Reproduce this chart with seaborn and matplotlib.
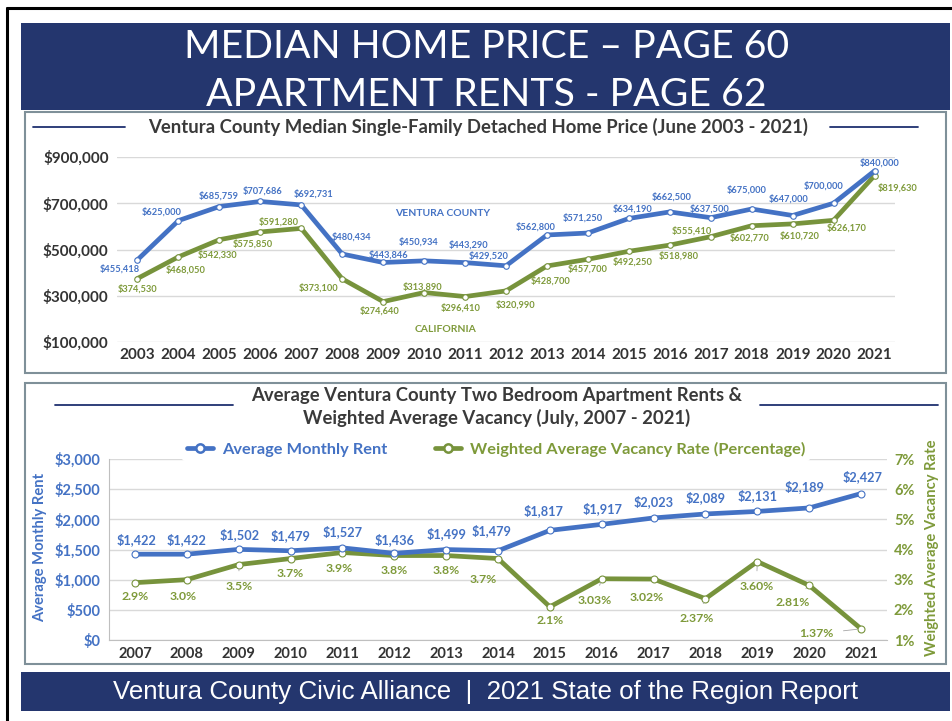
import matplotlib
matplotlib.use("Agg")
import matplotlib.pyplot as plt
import seaborn as sns
import pandas as pd
import numpy as np
from matplotlib.patches import Rectangle
from matplotlib.lines import Line2D

# ---- data ----
home_years = [str(y) for y in range(2003, 2022)]
vc_price = [455418, 625000, 685759, 707686, 692731, 480434, 443846, 450934, 443290,
            429520, 562800, 571250, 634190, 662500, 637500, 675000, 647000, 700000, 840000]
ca_price = [374530, 468050, 542330, 575850, 591280, 373100, 274640, 313890, 296410,
            320990, 428700, 457700, 492250, 518980, 555410, 602770, 610720, 626170, 819630]

rent_years = [str(y) for y in range(2007, 2022)]
rent = [1422, 1422, 1502, 1479, 1527, 1436, 1499, 1479, 1817, 1917, 2023, 2089, 2131, 2189, 2427]
vacancy = [2.9, 3.0, 3.5, 3.7, 3.9, 3.8, 3.8, 3.7, 2.1, 3.03, 3.02, 2.37, 3.60, 2.81, 1.37]
vacancy_text = ["2.9%", "3.0%", "3.5%", "3.7%", "3.9%", "3.8%", "3.8%", "3.7%", "2.1%",
                "3.03%", "3.02%", "2.37%", "3.60%", "2.81%", "1.37%"]

# label offsets in pixels (dx, dy downward)
vc_off = [(-18, 9), (-17, -9), (-1, -11), (2, -11), (12, -11), (9, -17), (5, -8), (-6, -19),
          (3, -18), (-17, -10), (-11, -8), (-5, -15), (4, -10), (2, -15), (-1, -9), (-5, -19),
          (-4, -17), (-10, -17), (5, -8)]
ca_off = [(0, 10), (7, 13), (-2, 15), (-8, 12), (-23, -6), (-24, 9), (-4, 9), (-2, -6),
          (-4, 11), (10, 14), (4, 15), (0, 10), (4, 11), (9, 11), (-19, -6), (-2, 12),
          (7, 12), (13, 8), (23, 12)]
rent_off = [(2, -15), (0, -15), (1, -15), (0, -15), (0, -16), (0, -14), (0, -16), (-6, -20),
            (-6, -20), (1, -16), (0, -16), (0, -16), (0, -16), (-5, -21), (1, -17)]
vac_off = [(0, 14), (-4, 17), (1, 22), (0, 15), (-3, 16), (0, 15), (0, 15), (-15, 21),
           (0, 14), (-7, 22), (-7, 18), (-9, 20), (-1, 25), (-17, 17), (-45, 5)]
vac_leader = [False, False, True, False, False, False, False, False,
              False, True, False, True, True, True, True]

BLUE = "#4472C4"
GREEN = "#77933C"
GREEN_TXT = "#7E9A3A"
NAVY = "#24366E"
DARK = "#333333"
GRID = "#D9D9D9"

W, H = 953, 721


def fx(x):
    return x / W


def fy(y):
    return 1 - y / H


sns.set_style("white")
plt.rcParams['font.family'] = ['Lato', 'DejaVu Sans']

fig = plt.figure(figsize=(W / 100, H / 100), dpi=100)

# ---- frame, header, footer ----
fig.add_artist(Line2D([fx(7), fx(953)], [fy(8), fy(8)], color="black", lw=2.2, zorder=-1))
fig.add_artist(Line2D([fx(7), fx(7)], [fy(8), fy(721)], color="black", lw=2.2, zorder=-1))
fig.add_artist(Rectangle((fx(21), fy(110)), (950 - 21) / W, 87 / H, transform=fig.transFigure,
                         facecolor=NAVY, edgecolor="none", zorder=-2))
fig.add_artist(Rectangle((fx(21), fy(711)), (950 - 21) / W, 39 / H, transform=fig.transFigure,
                         facecolor=NAVY, edgecolor="none", zorder=-2))
for y0, y1 in [(112, 373), (383, 664)]:
    fig.add_artist(Rectangle((fx(25), fy(y1)), (946 - 25) / W, (y1 - y0) / H,
                             transform=fig.transFigure, facecolor="white",
                             edgecolor="#7F9099", lw=1.5, zorder=-1.5))

fig.text(fx(487), fy(58), "MEDIAN HOME PRICE \u2013 PAGE 60", color="white", fontsize=28.3,
         ha="center", va="baseline")
fig.text(fx(486), fy(106), "APARTMENT RENTS - PAGE 62", color="white", fontsize=28.3,
         ha="center", va="baseline")
fig.text(fx(486), fy(692), "Ventura County Civic Alliance  |  2021 State of the Region Report",
         color="white", fontsize=18.6, ha="center", va="center",
         family=['Liberation Sans', 'DejaVu Sans'])

# ---- top chart ----
fig.add_artist(Line2D([fx(33), fx(125)], [fy(127), fy(127)], color="#1F3070", lw=1.3))
fig.add_artist(Line2D([fx(830), fx(918)], [fy(127), fy(127)], color="#1F3070", lw=1.3))
fig.text(fx(478), fy(127), "Ventura County Median Single-Family Detached Home Price (June 2003 - 2021)",
         color="#3A3A3A", fontsize=13.3, fontweight="bold", ha="center", va="center")

ax1 = fig.add_axes([fx(117), fy(342), (895 - 117) / W, (342 - 157) / H])
df_home = pd.DataFrame({"year": home_years, "vc": vc_price, "ca": ca_price})
for col, c in [("ca", GREEN), ("vc", BLUE)]:
    sns.lineplot(data=df_home, x="year", y=col, ax=ax1, color=c, linewidth=3.4, marker="o",
                 markersize=4, markerfacecolor="white", markeredgecolor=c, markeredgewidth=0.8,
                 clip_on=False, sort=False)
ax1.set_xlim(-0.5, len(home_years) - 0.5)
ax1.set_ylim(100000, 900000)
ax1.set_yticks([100000, 300000, 500000, 700000, 900000])
ax1.set_yticklabels([f"${v:,}" for v in [100000, 300000, 500000, 700000, 900000]])
ax1.grid(axis="y", color=GRID, lw=1)
ax1.set_axisbelow(True)
ax1.patch.set_visible(False)
for s in ax1.spines.values():
    s.set_visible(False)
ax1.tick_params(axis="y", length=0, pad=6, labelsize=11, labelcolor=DARK)
ax1.tick_params(axis="x", length=0, pad=4, labelsize=11, labelcolor=DARK)
for lab in ax1.get_xticklabels() + ax1.get_yticklabels():
    lab.set_fontweight("bold")
ax1.set_xticks(np.arange(len(home_years) + 1) - 0.5, minor=True)
ax1.tick_params(axis="x", which="minor", length=6, color="#EEEEEE", width=1)
ax1.set_xlabel("")
ax1.set_ylabel("")

for i, v in enumerate(vc_price):
    dx, dy = vc_off[i]
    ax1.annotate(f"${v:,}", (i, v), xytext=(dx, -dy), textcoords="offset pixels",
                 ha="center", va="center", fontsize=6.7, fontweight="bold", color=BLUE,
                 annotation_clip=False)
for i, v in enumerate(ca_price):
    dx, dy = ca_off[i]
    ax1.annotate(f"${v:,}", (i, v), xytext=(dx, -dy), textcoords="offset pixels",
                 ha="center", va="center", fontsize=6.7, fontweight="bold", color=GREEN_TXT,
                 annotation_clip=False)
fig.text(fx(443), fy(213), "VENTURA COUNTY", color=BLUE, fontsize=7.5, fontweight="bold",
         ha="center", va="center")
fig.text(fx(446), fy(330), "CALIFORNIA", color=GREEN_TXT, fontsize=7.5, fontweight="bold",
         ha="center", va="center")

# ---- bottom chart ----
fig.add_artist(Line2D([fx(55), fx(233)], [fy(405), fy(405)], color="#1F3070", lw=1.3))
fig.add_artist(Line2D([fx(760), fx(938)], [fy(405), fy(405)], color="#1F3070", lw=1.3))
fig.text(fx(497), fy(396), "Average Ventura County Two Bedroom Apartment Rents &",
         color="#3A3A3A", fontsize=13.3, fontweight="bold", ha="center", va="center")
fig.text(fx(497), fy(418), "Weighted Average Vacancy (July, 2007 - 2021)",
         color="#3A3A3A", fontsize=13.3, fontweight="bold", ha="center", va="center")

ax2 = fig.add_axes([fx(109), fy(640), (887 - 109) / W, (640 - 459) / H])
ax3 = ax2.twinx()
df_rent = pd.DataFrame({"year": rent_years, "rent": rent, "vac": vacancy})
sns.lineplot(data=df_rent, x="year", y="vac", ax=ax3, color=GREEN, linewidth=3.4, marker="o",
             markersize=5, markerfacecolor="white", markeredgecolor=GREEN,
             markeredgewidth=0.8, clip_on=False, sort=False)
sns.lineplot(data=df_rent, x="year", y="rent", ax=ax2, color=BLUE, linewidth=3.4, marker="o",
             markersize=5, markerfacecolor="white", markeredgecolor=BLUE,
             markeredgewidth=0.8, clip_on=False, sort=False)
ax3.set_zorder(ax2.get_zorder() - 1)
ax2.patch.set_visible(False)
ax3.patch.set_visible(False)

ax2.set_xlim(-0.5, len(rent_years) - 0.5)
ax2.set_ylim(0, 3000)
ax3.set_ylim(1, 7)
ax2.set_yticks(range(0, 3001, 500))
ax2.set_yticklabels([f"${v:,}" for v in range(0, 3001, 500)])
ax3.set_yticks(range(1, 8))
ax3.set_yticklabels([f"{v}%" for v in range(1, 8)])
ax3.grid(axis="y", color=GRID, lw=1)
ax2.grid(False)
for a in (ax2, ax3):
    for s in a.spines.values():
        s.set_visible(False)
ax3.spines["left"].set_visible(True)
ax3.spines["left"].set_color("#BFBFBF")
ax3.spines["bottom"].set_visible(True)
ax3.spines["bottom"].set_color("#BFBFBF")
ax2.tick_params(axis="y", length=0, pad=6, labelsize=10.5, labelcolor=BLUE)
ax3.tick_params(axis="y", length=0, pad=5, labelsize=10.5, labelcolor=GREEN_TXT)
ax2.tick_params(axis="x", length=0, pad=5, labelsize=10.5, labelcolor=DARK)
ax2.set_xticks(np.arange(len(rent_years) + 1) - 0.5, minor=True)
ax2.tick_params(axis="x", which="minor", length=4, color="#BFBFBF", width=1)
for lab in ax2.get_xticklabels() + ax2.get_yticklabels() + ax3.get_yticklabels():
    lab.set_fontweight("bold")
ax2.set_xlabel("")
ax3.set_xlabel("")
ax2.set_ylabel("")
ax3.set_ylabel("")
fig.text(fx(40), fy(547), "Average Monthly Rent", rotation=90, color=BLUE, fontsize=10.6,
         fontweight="bold", ha="center", va="center")
fig.text(fx(932), fy(548), "Weighted Average Vacancy Rate", rotation=90, color=GREEN_TXT,
         fontsize=10.6, fontweight="bold", ha="center", va="center")

for i, v in enumerate(rent):
    dx, dy = rent_off[i]
    ax2.annotate(f"${v:,}", (i, v), xytext=(dx, -dy), textcoords="offset pixels",
                 ha="center", va="center", fontsize=9.2, fontweight="bold", color=BLUE,
                 annotation_clip=False)
for i, v in enumerate(vacancy):
    dx, dy = vac_off[i]
    props = dict(arrowstyle="-", color="#A6A6A6", lw=0.6, shrinkA=5, shrinkB=3) if vac_leader[i] else None
    ax3.annotate(vacancy_text[i], (i, v), xytext=(dx, -dy), textcoords="offset pixels",
                 ha="center", va="center", fontsize=8.8, fontweight="bold", color=GREEN_TXT,
                 annotation_clip=False, arrowprops=props)

handles = [Line2D([], [], color=BLUE, lw=3.4, marker="o", markersize=6, markerfacecolor="white",
                  markeredgecolor=BLUE, markeredgewidth=1.8),
           Line2D([], [], color=GREEN, lw=3.4, marker="o", markersize=6, markerfacecolor="white",
                  markeredgecolor=GREEN, markeredgewidth=1.8)]
leg = fig.legend(handles, ["Average Monthly Rent", "Weighted Average Vacancy Rate (Percentage)"],
                 loc="center", bbox_to_anchor=(fx(496), fy(449)), ncol=2, frameon=True,
                 fontsize=11.8, handlelength=1.6, handletextpad=0.55, columnspacing=2.9,
                 borderpad=0.3)
leg.get_frame().set_facecolor("white")
leg.get_frame().set_edgecolor("none")
leg.get_frame().set_alpha(1)
leg.get_texts()[0].set_color(BLUE)
leg.get_texts()[1].set_color(GREEN_TXT)
for t in leg.get_texts():
    t.set_fontweight("bold")

fig.savefig("out.png", dpi=100)
